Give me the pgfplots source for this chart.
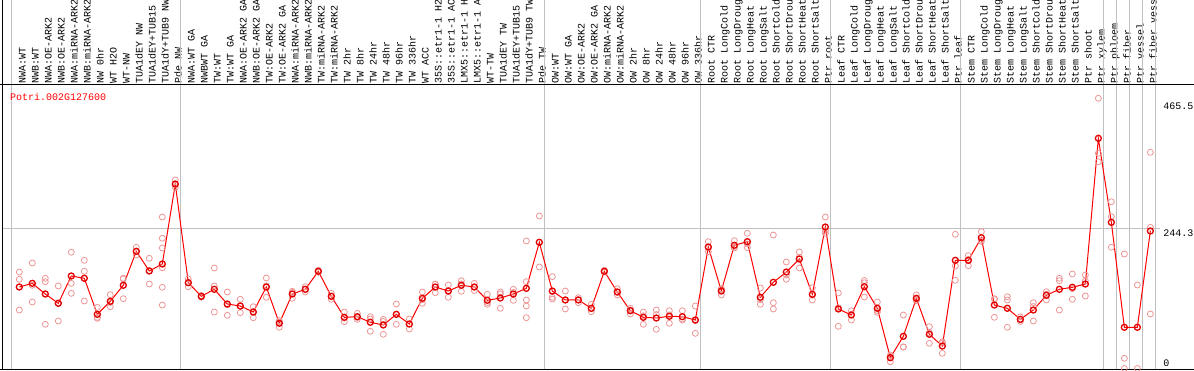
\documentclass[border=0pt]{standalone}
\usepackage{pgfplots}
\pgfplotsset{compat=1.18}
\usepackage{fontspec}
\setmainfont{Liberation Mono}
\definecolor{rep}{RGB}{236,150,150}
\definecolor{sep}{RGB}{192,192,192}
\definecolor{meanred}{RGB}{225,0,0}
\begin{document}
\begin{tikzpicture}[font=\fontsize{10}{12}\selectfont]
\useasboundingbox (0pt,0pt) rectangle (1194pt,370pt);
\begin{axis}[at={(0pt,1pt)}, anchor=south west, scale only axis,
 width=1160pt, height=284pt,
 xmin=-1.4846, xmax=87.746, ymin=-0.87, ymax=494.0,
 axis line style={draw=none}, major tick length=0pt, clip=false,
 xtick={0,...,87},
 xticklabels={NWA:WT,NWB:WT,NWA:OE-ARK2,NWB:OE-ARK2,NWA:miRNA-ARK2,NWB:miRNA-ARK2,NW 0hr,WT H2O,WT-NW,TUA1dEY NW,TUA1dEY+TUB15,TUA1dY+TUB9 NW,Pde NW,
 NWA:WT GA,NWBWT GA,TW:WT,TW:WT GA,NWA:OE-ARK2 GA,NWB:OE-ARK2 GA,TW:OE-ARK2,TW:OE-ARK2 GA,NWA:miRNA-ARK2,NWB:miRNA-ARK2,TW:miRNA-ARK2,TW:miRNA-ARK2,TW 2hr,TW 8hr,TW 24hr,TW 48hr,TW 96hr,TW 336hr,WT ACC,35S::etr1-1 H2,35S::etr1-1 AC,LMX5::etr1-1 H,LMX5::etr1-1 A,WT-TW,TUA1dEY TW,TUA1dEY+TUB15,TUA1dY+TUB9 TW,Pde TW,
 OW:WT,OW:WT GA,OW:OE-ARK2,OW:OE-ARK2 GA,OW:miRNA-ARK2,OW:miRNA-ARK2,OW 2hr,OW 8hr,OW 24hr,OW 48hr,OW 96hr,OW 336hr,
 Root CTR,Root LongCold,Root LongDroug,Root LongHeat,Root LongSalt,Root ShortCold,Root ShortDrou,Root ShortHeat,Root ShortSalt,Ptr root,
 Leaf CTR,Leaf LongCold,Leaf LongDroug,Leaf LongHeat,Leaf LongSalt,Leaf ShortCold,Leaf ShortDrou,Leaf ShortHeat,Leaf ShortSalt,Ptr leaf,
 Stem CTR,Stem LongCold,Stem LongDroug,Stem LongHeat,Stem LongSalt,Stem ShortCold,Stem ShortDrou,Stem ShortHeat,Stem ShortSalt,Ptr shoot,Ptr xylem,Ptr phloem,Ptr fiber,Ptr vessel,Ptr fiber vess},
 xticklabel pos=upper,
 xticklabel style={xshift=3pt, rotate=90, anchor=west, inner sep=1.5pt, text height=6.6pt, text depth=0pt},
 ytick={244.3,465.5}, yticklabel pos=right,
 yticklabel style={anchor=north west, inner xsep=3pt, inner ysep=1.5pt, text height=6.6pt, text depth=0pt},
 extra y ticks={0},
 extra y tick style={yticklabel style={anchor=south west}},
 /pgf/number format/assume math mode=true,
]
\pgfplotsinvokeforeach{-0.6,12.4,40.4,52.4,62.4,72.4,83.4,84.4,85.4,86.4,87.4}{
  \draw[sep, line width=1pt] (axis cs:#1,-0.87) -- (axis cs:#1,642.1);
}
\draw[sep, line width=1pt] (axis cs:-1.254,244.3) -- (axis cs:87.746,244.3);
\draw[black, line width=1pt] (axis cs:-1.4846,494.0) -- (axis cs:90.3615,494.0);
\draw[black, line width=1pt] (axis cs:-1.4846,-0.87) -- (axis cs:90.3615,-0.87);
\draw[black, line width=1pt] (axis cs:-1.254,-0.87) -- (axis cs:-1.254,642.1);

\addplot[only marks, mark=o, mark size=3pt, rep, mark options={line width=0.8pt}] coordinates {
(0,168.1)(0,155.4)(0,101.9)
(1,183.8)(1,115.9)(1,145)
(2,157.2)(2,151.3)(2,77.0)
(3,143.8)(3,82.8)(3,114.2)
(4,202.5)(4,148.4)(4,131.0)
(5,188.5)(5,169.4)(5,117.6)
(6,106.6)(6,87.5)(6,89.1)
(7,128.6)(7,107.7)(7,115)
(8,157.2)(8,121.6)(8,156.2)
(9,211.2)(9,197.8)(9,203.6)
(10,192.0)(10,147.2)(10,170.5)
(11,264.0)(11,226.9)(11,210.0)(11,175.6)(11,141.5)(11,110.6)
(12,328.5)(12,315.7)(12,320)
(13,142.5)(13,150)(13,156)
(14,124.1)(14,127)(14,126)
(15,175.1)(15,143.8)(15,98.4)
(16,133.3)(16,92.7)(16,111.2)
(17,120.6)(17,97.3)(17,108.8)
(18,107.7)(18,88.5)(18,99)
(19,157.7)(19,124.1)(19,144)
(20,83.3)(20,71.8)(20,81)
(21,134.5)(21,122.3)(21,132.6)
(22,142.5)(22,133.3)(22,138)
(23,171)(23,168)(23,169)
(24,131.0)(24,120.6)(24,126)
(25,98.4)(25,81.6)(25,88)
(26,96.2)(26,85.7)(26,89)
(27,90.3)(27,64.8)(27,86.4)
(28,85.7)(28,59.6)(28,82)
(29,112.4)(29,77.0)(29,94)
(30,86.3)(30,68.8)(30,77.5)
(31,133.3)(31,113.6)(31,120)
(32,146.7)(32,132.1)(32,147)
(33,145.5)(33,124.1)(33,135.5)
(34,153.0)(34,134.5)(34,147.5)
(35,148.4)(35,142)(35,136)
(36,129.3)(36,111.9)(36,115)
(37,133.3)(37,104.9)(37,130)
(38,138.0)(38,118.8)(38,132.6)
(39,222.2)(39,151.3)(39,119.4)(39,108.9)(39,88.5)
(40,265.7)(40,176.9)
(41,160.0)(41,124.1)(41,121)
(42,135.0)(42,103.7)(42,119.5)
(43,123.4)(43,114.7)(43,120)
(44,111.9)(44,99.0)(44,104)
(45,171)(45,168)(45,169)
(46,139.0)(46,128.1)(46,133)
(47,104.9)(47,95.0)(47,102)
(48,98.4)(48,77.0)(48,92)
(49,101.9)(49,68.3)(49,94)
(50,100.7)(50,78.8)(50,93.5)
(51,100.7)(51,84.5)(51,86)
(52,108.9)(52,61.3)(52,83.5)
(53,221.0)(53,203.5)(53,210.5)
(54,138.0)(54,128.1)(54,139)
(55,222.7)(55,211.2)(55,210)
(56,235.6)(56,210.5)(56,217)
(57,140.3)(57,111.9)(57,120)
(58,232.6)(58,114.7)(58,103.7)
(59,185.6)(59,155.4)(59,163)
(60,203.0)(60,175.1)(60,194)
(61,140.8)(61,119.4)(61,127.7)
(62,264.0)(62,235.6)(62,240)
(63,131.6)(63,73.5)(63,106)
(64,100.7)(64,84.5)(64,94.5)
(65,149.5)(65,124.6)(65,153.4)
(66,115.9)(66,97.9)(66,101)
(67,23.5)(67,11.8)(67,21)
(68,93.2)(68,37.5)(68,37.6)
(69,128.1)(69,118.1)(69,120.7)
(70,72.8)(70,43.9)(70,62)
(71,46.7)(71,26.5)(71,44.5)
(72,233.8)(72,178.6)(72,153.7)
(73,196.6)(73,179.1)(73,190)
(74,238.4)(74,223.9)(74,221.5)
(75,121.1)(75,89.2)(75,121.5)
(76,125.1)(76,119.4)(76,71.8)
(77,90)(77,82)(77,85)
(78,114.7)(78,82.8)(78,108)
(79,133.8)(79,119.4)(79,129.5)
(80,157.2)(80,153.0)(80,101.9)
(81,164.7)(81,120.6)(81,139)
(82,162.9)(82,126.3)(82,152.5)
(83,470.8)(83,375.0)(83,360.3)
(84,290.6)(84,264.5)(84,211.2)
(85,199.5)(85,17.8)(85,0)
(86,145.5)(86,0)
(87,376.7)(87,246.0)(87,95.0)
};

\addplot[red, line width=1pt, mark=o, mark size=3pt, mark options={line width=1.3pt, draw=meanred}] coordinates {
(0,142.0)(1,148.4)(2,129.8)(3,113.6)(4,161.2)(5,157.2)(6,94.4)(7,117.1)(8,145.0)(9,204.2)
(10,169.9)(11,182.1)(12,321.5)(13,149.5)(14,125.8)(15,138.0)(16,112.4)(17,108.9)(18,98.4)(19,142.0)
(20,78.8)(21,129.8)(22,138.0)(23,169.4)(24,125.8)(25,89.2)(26,90.3)(27,80.5)(28,75.8)(29,94.4)
(30,77.5)(31,122.3)(32,142.0)(33,135.0)(34,145.0)(35,142.0)(36,118.8)(37,122.8)(38,129.8)(39,139.7)
(40,219.9)(41,135.0)(42,119.4)(43,119.4)(44,104.9)(45,169.4)(46,133.3)(47,100.7)(48,89.2)(49,88.0)
(50,91.0)(51,90.3)(52,84.5)(53,211.7)(54,135.0)(55,214.7)(56,221.0)(57,124.1)(58,150.2)(59,168.1)
(60,190.8)(61,129.3)(62,246.6)(63,103.7)(64,93.2)(65,142.5)(66,104.9)(67,18.8)(68,56.1)(69,122.3)
(70,59.6)(71,39.2)(72,188.5)(73,188.5)(74,227.9)(75,110.6)(76,104.9)(77,85.7)(78,101.9)(79,127.5)
(80,138.0)(81,141.5)(82,147.2)(83,401.1)(84,254.7)(85,71.8)(86,71.8)(87,239.6)
};
\end{axis}
\node[anchor=west, inner sep=0pt, text=red, text height=6.6pt, text depth=0pt] at (10pt,273pt) {Potri.002G127600};
\end{tikzpicture}
\end{document}
